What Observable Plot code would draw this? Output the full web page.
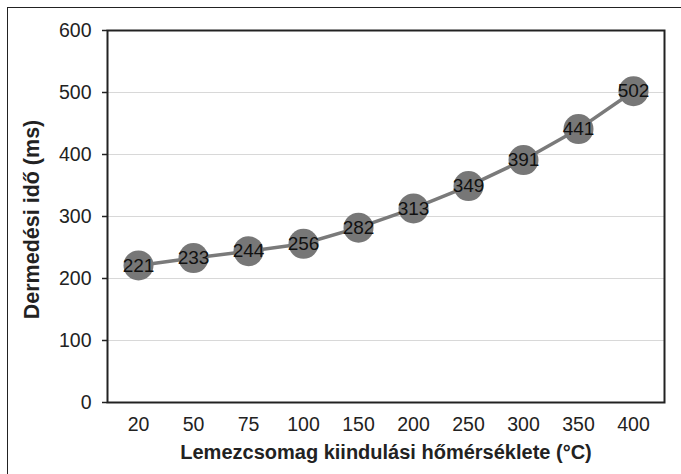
<!DOCTYPE html>
<html><head><meta charset="utf-8">
<script src="https://cdn.jsdelivr.net/npm/d3@7"></script>
<script src="https://cdn.jsdelivr.net/npm/@observablehq/plot@0.6"></script>
<style>
html,body{margin:0;padding:0;background:#fff;overflow:hidden;width:681px;height:474px;}
#wrap{position:relative;width:681px;height:474px;}
#border{position:absolute;left:7px;top:7px;width:700px;height:500px;border:1.5px solid #222;box-sizing:border-box;}
#chart{position:absolute;left:0;top:0;}
</style></head>
<body><div id="wrap"><div id="border"></div><div id="chart"></div></div>
<script>
const temperatures = ["20","50","75","100","150","200","250","300","350","400"];
const times = [221,233,244,256,282,313,349,391,441,502];
const yTicks = [0,100,200,300,400,500,600];
const xTitle = "Lemezcsomag kiindulási hőmérséklete (°C)";
const yTitle = "Dermedési idő (ms)";

const data = temperatures.map((t,i)=>({t, v: times[i]}));

const chart = Plot.plot({
  width: 681, height: 474,
  marginLeft: 107, marginRight: 17, marginTop: 30, marginBottom: 72,
  style: {fontFamily: "'Liberation Sans', Arial, sans-serif", background: "transparent"},
  x: {type: "point", domain: temperatures, padding: 0.5, label: null},
  y: {domain: [0,600], ticks: yTicks, label: null},
  marks: [
    Plot.gridY(yTicks.slice(1), {stroke: "#d8d8d8", strokeOpacity: 1, strokeWidth: 1.2}),
    Plot.frame({stroke: "#222", strokeWidth: 2}),
    Plot.axisY(yTicks, {tickSize: 5, tickPadding: 11, fontSize: 19.5, fill: "#222", stroke: "#222", strokeWidth: 1.5}),
    Plot.axisX({tickSize: 0, tickPadding: 15, fontSize: 19.5, fill: "#222"}),
    Plot.line(data, {x: "t", y: "v", stroke: "#7a7a7a", strokeWidth: 3.5}),
    Plot.dot(data, {x: "t", y: "v", r: 15, fill: "#777777", stroke: "none"}),
    Plot.text(data, {x: "t", y: "v", text: d => String(d.v), fontSize: 19, fill: "#111"}),
    Plot.text([xTitle], {frameAnchor: "bottom", dy: 56, fontSize: 20, fontWeight: "bold", fill: "#222", text: d => d}),
    Plot.text([yTitle], {frameAnchor: "left", dx: -75, dy: 3, rotate: -90, textAnchor: "middle", fontSize: 21.5, fontWeight: "bold", fill: "#222", text: d => d})
  ]
});
document.getElementById("chart").appendChild(chart);
</script>
</body></html>
